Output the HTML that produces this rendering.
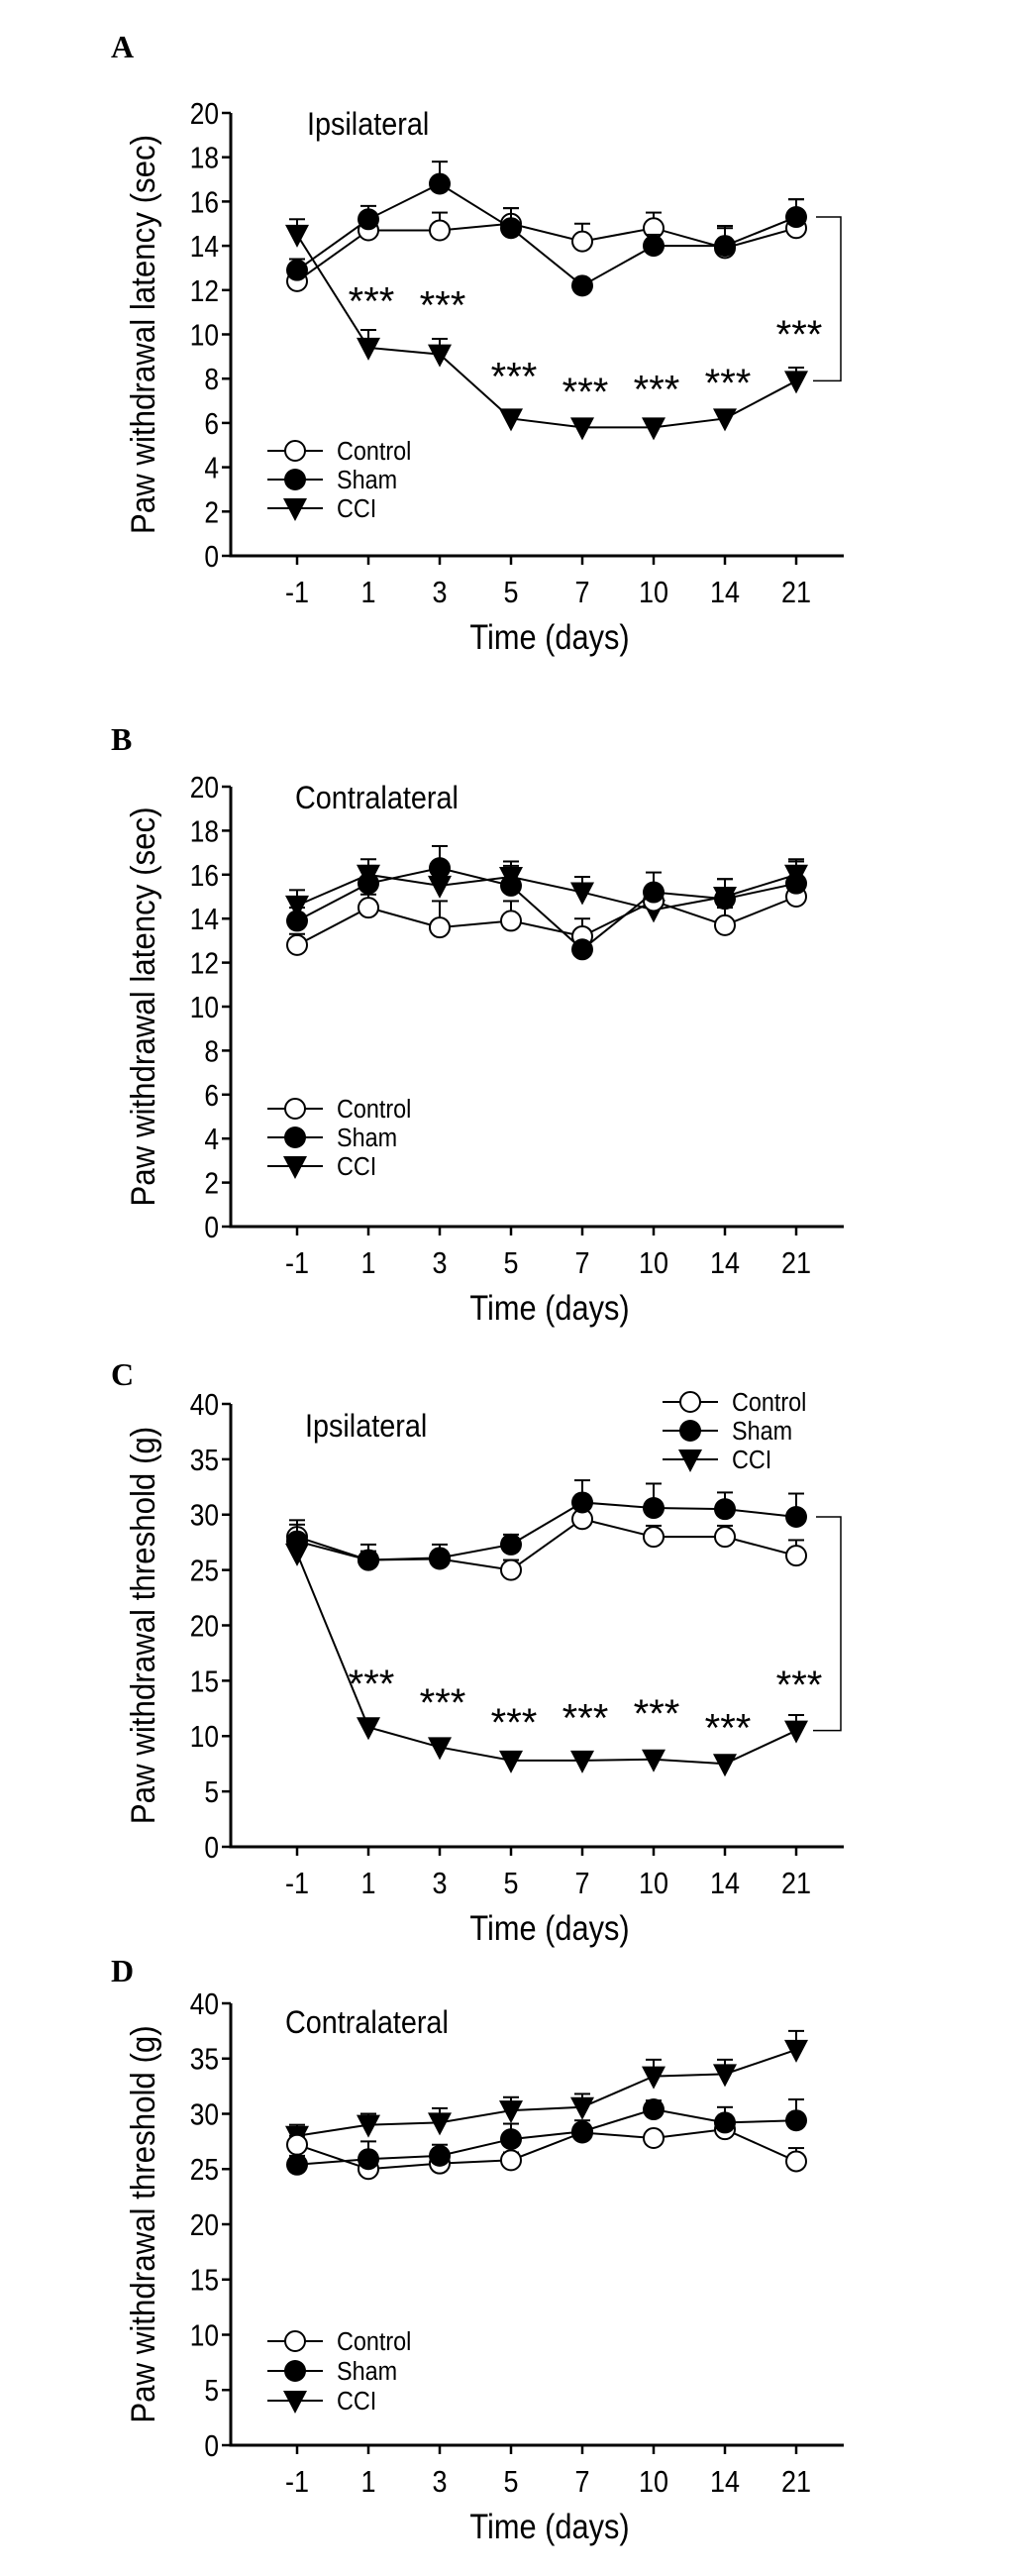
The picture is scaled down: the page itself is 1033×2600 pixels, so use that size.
<!DOCTYPE html>
<html><head><meta charset="utf-8"><style>
html,body{margin:0;padding:0;background:#fff;}
svg{display:block;font-family:"Liberation Sans",Arial,sans-serif;}
</style></head><body>
<svg id="fig" width="1033" height="2600" viewBox="0 0 1033 2600"></svg>
<script>
const days = ["-1","1","3","5","7","10","14","21"];
const seriesNames = ["Control","Sham","CCI"];
// Panel A
const aControl = [12.4,14.7,14.7,15.0,14.2,14.8,13.9,14.8];
const aControlErr = [0.4,0.3,0.8,0.7,0.8,0.7,1.0,1.3];
const aSham = [12.9,15.2,16.8,14.8,12.2,14.0,14.0,15.3];
const aShamErr = [0.5,0.6,1.0,0.9,0.3,0.5,0.8,0.8];
const aCCI = [14.5,9.4,9.1,6.2,5.8,5.8,6.2,7.9];
const aCCIErr = [0.7,0.8,0.7,0.4,0.2,0.2,0.4,0.6];
const aStars = [null,11.8,11.6,8.4,7.7,7.8,8.1,10.3];
// Panel B
const bControl = [12.8,14.5,13.6,13.9,13.2,14.8,13.7,15.0];
const bControlErr = [0.5,0.6,1.2,0.9,0.8,0.6,0.8,0.6];
const bSham = [13.9,15.6,16.3,15.5,12.6,15.2,14.9,15.6];
const bShamErr = [0.6,0.8,1.0,0.9,0.3,0.9,0.9,1.0];
const bCCI = [14.6,16.0,15.5,15.9,15.2,14.4,15.0,16.0];
const bCCIErr = [0.7,0.7,0.8,0.7,0.7,0.6,0.8,0.7];
// Panel C
const cControl = [28.0,25.9,26.0,25.0,29.6,28.0,28.0,26.3];
const cControlErr = [1.5,0.8,0.6,0.9,1.5,1.0,1.0,1.4];
const cSham = [27.6,25.9,26.1,27.3,31.1,30.6,30.5,29.8];
const cShamErr = [1.5,1.4,1.2,0.9,2.0,2.2,1.5,2.1];
const cCCI = [26.5,10.8,9.0,7.8,7.8,7.9,7.5,10.5];
const cCCIErr = [0.5,0.3,0.3,0.3,0.3,0.3,0.3,1.4];
const cStars = [null,15.3,13.6,11.8,12.2,12.6,11.3,15.2];
// Panel D
const dControl = [27.2,25.0,25.5,25.8,28.3,27.8,28.6,25.7];
const dControlErr = [0.8,0.5,0.5,0.7,0.4,0.6,0.5,1.2];
const dSham = [25.4,25.9,26.2,27.7,28.4,30.4,29.2,29.4];
const dShamErr = [0.8,1.6,1.0,1.4,1.0,0.8,1.4,1.9];
const dCCI = [28.0,29.0,29.2,30.3,30.6,33.4,33.6,35.8];
const dCCIErr = [1.0,1.0,1.3,1.2,1.2,1.5,1.3,1.7];

const NS = "http://www.w3.org/2000/svg";
const svg = document.getElementById("fig");
function mk(tag, attrs, parent){const e=document.createElementNS(NS,tag);for(const k in attrs)e.setAttribute(k,attrs[k]);(parent||svg).appendChild(e);return e;}

function panel(cfg){
  const g = mk("g",{});
  
  
  const axX=233, xEnd=852, x0=300, dx=72;
  const yTop=cfg.yTop, yBot=cfg.yBot, ymax=cfg.ymax;
  const xs = i => x0 + i*dx;
  const ys = v => yBot - (v/ymax)*(yBot-yTop);
  const L = mk("text",{x:112,y:cfg.letterY,"font-family":"Liberation Serif, serif","font-weight":"bold","font-size":32},g);
  L.textContent = cfg.letter;
  
  
  const ya = mk("line",{x1:axX,y1:yTop,x2:axX,y2:yBot+1.5,stroke:"#000","stroke-width":3},g);
  
  
  const xa = mk("line",{x1:axX-1.5,y1:yBot,x2:xEnd,y2:yBot,stroke:"#000","stroke-width":3},g);
  
  
  for(let v=0; v<=ymax; v+=cfg.step){
    mk("line",{x1:axX-9,y1:ys(v),x2:axX,y2:ys(v),stroke:"#000","stroke-width":2.5},g);
    const t = mk("text",{x:axX-12,y:ys(v)+11,"text-anchor":"end","font-size":31},g);
    t.setAttribute("transform",`translate(${(axX-12)*0.15},0) scale(0.85,1)`);
    t.textContent = v;
    
    
  }
  days.forEach((d,i)=>{
    mk("line",{x1:xs(i),y1:yBot,x2:xs(i),y2:yBot+9,stroke:"#000","stroke-width":2.5},g);
    const t = mk("text",{x:xs(i),y:yBot+47,"text-anchor":"middle","font-size":31},g);
    t.setAttribute("transform",`translate(${xs(i)*0.13},0) scale(0.87,1)`);
    t.textContent = d;
    
    
  });
  const xt = mk("text",{x:555/0.88,y:yBot+94,"text-anchor":"middle","font-size":35,transform:"scale(0.88,1)"},g);
  xt.textContent = "Time (days)";
  
  
  const cy = (yTop+yBot)/2;
  const yt = mk("text",{x:0,y:0,"text-anchor":"middle","font-size":34,transform:`translate(156,${cy}) rotate(-90) scale(0.92,1)`},g);
  yt.textContent = cfg.ylabel;
  
  
  const st = mk("text",{x:cfg.subX/0.9,y:cfg.subY,"font-size":32,transform:"scale(0.9,1)"},g);
  st.textContent = cfg.sub;
  
  

  function marker(kind,x,y,parent){
    let m;
    if(kind===0) m = mk("circle",{cx:x,cy:y,r:10,fill:"#fff",stroke:"#000","stroke-width":2},parent);
    else if(kind===1) m = mk("circle",{cx:x,cy:y,r:11,fill:"#000"},parent);
    else m = mk("path",{d:`M${x-12},${y-10} L${x+12},${y-10} L${x},${y+13} Z`,fill:"#000"},parent);
    return m;
  }
  const order=[2,0,1];
  order.forEach(k=>{
    const vals=cfg.series[k], errs=cfg.errs[k];
    const sg = mk("g",{},g);
    
    
    const pts = vals.map((v,i)=>xs(i)+","+ys(v)).join(" ");
    mk("polyline",{points:pts,fill:"none",stroke:"#000","stroke-width":2},sg);
    vals.forEach((v,i)=>{
      const y1=ys(v), y2=ys(v+errs[i]);
      mk("line",{x1:xs(i),y1:y1,x2:xs(i),y2:y2,stroke:"#000","stroke-width":2},sg);
      mk("line",{x1:xs(i)-8,y1:y2,x2:xs(i)+8,y2:y2,stroke:"#000","stroke-width":2},sg);
      const m = marker(k,xs(i),y1,sg);
      
      
    });
  });
  if(cfg.stars){
    cfg.stars.forEach((s,i)=>{
      if(s===null) return;
      const t = mk("text",{x:xs(i)+3,y:ys(s)+20,"text-anchor":"middle","font-size":40},g);
      t.textContent = "***";
      
      
    });
    const last=7, top=ys(cfg.series[1][last]), bot=ys(cfg.series[2][last]);
    const b = mk("path",{d:`M${xs(last)+20},${top} H${xs(last)+45} V${bot} H${xs(last)+17}`,fill:"none",stroke:"#000","stroke-width":1.5},g);
    
    
  }
  const lg = mk("g",{},g);
  
  
  seriesNames.forEach((n,k)=>{
    const y = cfg.legY + k*cfg.legDy;
    const e = mk("g",{},lg);
    
    
    mk("line",{x1:cfg.legX-28,y1:y,x2:cfg.legX+28,y2:y,stroke:"#000","stroke-width":2},e);
    marker(k,cfg.legX,y,e);
    const t = mk("text",{x:(cfg.legX+42)/0.9,y:y+9,"font-size":26,transform:"scale(0.9,1)"},e);
    t.textContent = n;
  });
}

panel({letter:"A",letterY:58,yTop:114,yBot:561,ymax:20,step:2,ylabel:"Paw withdrawal latency (sec)",sub:"Ipsilateral",subX:310,subY:136,
  series:[aControl,aSham,aCCI],errs:[aControlErr,aShamErr,aCCIErr],stars:aStars,legX:298,legY:455,legDy:29});
panel({letter:"B",letterY:757,yTop:794,yBot:1238,ymax:20,step:2,ylabel:"Paw withdrawal latency (sec)",sub:"Contralateral",subX:298,subY:816,
  series:[bControl,bSham,bCCI],errs:[bControlErr,bShamErr,bCCIErr],stars:null,legX:298,legY:1119,legDy:29});
panel({letter:"C",letterY:1398,yTop:1417,yBot:1864,ymax:40,step:5,ylabel:"Paw withdrawal threshold (g)",sub:"Ipsilateral",subX:308,subY:1450,
  series:[cControl,cSham,cCCI],errs:[cControlErr,cShamErr,cCCIErr],stars:cStars,legX:697,legY:1415,legDy:29});
panel({letter:"D",letterY:2000,yTop:2022,yBot:2468,ymax:40,step:5,ylabel:"Paw withdrawal threshold (g)",sub:"Contralateral",subX:288,subY:2052,
  series:[dControl,dSham,dCCI],errs:[dControlErr,dShamErr,dCCIErr],stars:null,legX:298,legY:2363,legDy:30});
</script>
</body></html>
